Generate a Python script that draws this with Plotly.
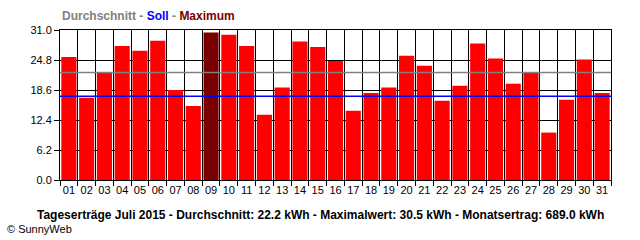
import plotly.graph_objects as go

days = [f"{d:02d}" for d in range(1, 32)]
yields_kwh = [25.4, 17.0, 22.3, 27.7, 26.7, 28.8, 18.6, 15.3, 30.5, 30.0,
              27.7, 13.5, 19.1, 28.6, 27.5, 24.6, 14.3, 18.0, 19.1, 25.7,
              23.6, 16.4, 19.5, 28.2, 25.1, 19.9, 22.2, 9.8, 16.6, 24.9, 18.0]
average_kwh = 22.2
target_kwh = 17.3
max_kwh = 30.5
month_total_kwh = 689.0
y_ticks = [0.0, 6.2, 12.4, 18.6, 24.8, 31.0]

max_idx = yields_kwh.index(max(yields_kwh))
colors = ["#7a0000" if i == max_idx else "#ff0000" for i in range(len(yields_kwh))]

FONT = "Liberation Sans"

fig = go.Figure()
fig.add_trace(go.Bar(x=days, y=yields_kwh, marker=dict(color=colors, line=dict(width=0)),
                     hoverinfo="skip"))

fig.add_shape(type="line", xref="x domain", yref="y", x0=0, x1=1, y0=average_kwh, y1=average_kwh,
              line=dict(color="#808080", width=1.5), layer="above")
fig.add_shape(type="line", xref="x domain", yref="y", x0=0, x1=1, y0=target_kwh, y1=target_kwh,
              line=dict(color="#0000ff", width=1.5), layer="above")

fig.update_layout(
    width=640, height=240,
    margin=dict(l=60, r=29, t=30, b=60),
    paper_bgcolor="white", plot_bgcolor="white",
    showlegend=False,
    bargap=0.15,
    font=dict(family=FONT, size=11, color="black"),
    xaxis=dict(type="category", tickson="boundaries", showgrid=True, gridcolor="black", gridwidth=1,
               ticks="outside", ticklen=5, tickcolor="black", tickangle=0,
               showline=True, linecolor="black", linewidth=1, mirror=True,
               tickfont=dict(family=FONT, size=11), zeroline=False),
    yaxis=dict(range=[0, 31], tickvals=y_ticks, ticktext=[f"{v:.1f}" for v in y_ticks],
               showgrid=True, gridcolor="black", gridwidth=1,
               ticks="outside", ticklen=5, tickcolor="black",
               showline=True, linecolor="black", linewidth=1, mirror=True,
               zeroline=False, tickfont=dict(family=FONT, size=11)),
)

fig.add_annotation(xref="paper", yref="paper", x=0, y=1.093, xanchor="left", yanchor="middle",
                   showarrow=False,
                   text="<b><span style='color:#808080'>Durchschnitt</span> - "
                        "<span style='color:#0000ff'>Soll</span> - "
                        "<span style='color:#7a0000'>Maximum</span></b>",
                   font=dict(family=FONT, size=12, color="#808080"))

fig.add_annotation(xref="paper", yref="paper", x=0.472, y=-0.233, xanchor="center", yanchor="middle",
                   showarrow=False,
                   text=f"<b>Tageserträge Juli 2015 - Durchschnitt: {average_kwh:.1f} kWh - "
                        f"Maximalwert: {max_kwh:.1f} kWh - Monatsertrag: {month_total_kwh:.1f} kWh</b>",
                   font=dict(family=FONT, size=12, color="black"))

fig.add_annotation(xref="paper", yref="paper", x=-0.0998, y=-0.327, xanchor="left", yanchor="middle",
                   showarrow=False, text="© SunnyWeb",
                   font=dict(family=FONT, size=11, color="black"))

fig.write_html("out.html")
